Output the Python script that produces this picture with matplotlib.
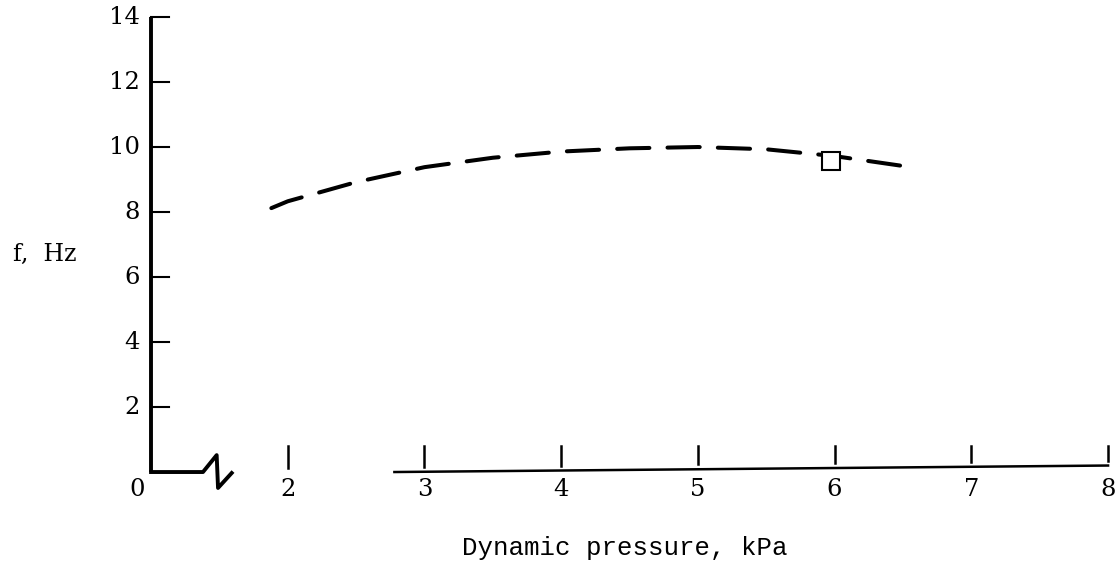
import numpy as np
import matplotlib
matplotlib.use("Agg")
import matplotlib.pyplot as plt

# Curve (dynamic pressure kPa, frequency Hz)
q_curve = [1.88, 2.0, 2.5, 3.0, 3.5, 4.0, 4.5, 5.0, 5.5, 6.0, 6.56]
f_curve = [8.12, 8.33, 8.92, 9.38, 9.67, 9.86, 9.96, 10.0, 9.93, 9.72, 9.38]

# Single test point
q_point = [5.97]
f_point = [9.57]

x_ticks = [2, 3, 4, 5, 6, 7, 8]
y_ticks = [2, 4, 6, 8, 10, 12, 14]

x_origin = 1.0  # where "0" sits after the axis break

serif = "DejaVu Serif"
mono = "Liberation Mono"
tick_fs = 17.5

fig = plt.figure(figsize=(11.18, 5.67), dpi=100)
ax = fig.add_axes([0.1351, 0.1675, 0.856, 0.8025])
ax.set_xlim(x_origin, 8.0)
ax.set_ylim(0, 14)
ax.axis("off")

# y axis with inward ticks
ax.plot([x_origin, x_origin], [0, 14], color="black", lw=2.8,
        solid_capstyle="butt", clip_on=False)
for yt in y_ticks:
    ax.plot([x_origin, x_origin + 0.13], [yt, yt], color="black", lw=1.5, clip_on=False)
    ax.text(x_origin - 0.08, yt, str(yt), ha="right", va="center",
            fontsize=tick_fs, family=serif, color="black")

# x axis: short stub with break symbol, then main axis
ax.plot([x_origin, 1.38, 1.48, 1.49, 1.59], [0, 0, 0.52, -0.49, -0.03],
        color="black", lw=2.8, clip_on=False, solid_joinstyle="round")
ax.plot([2.78, 8.0], [0, 0.2], color="black", lw=1.8, clip_on=False)
for xt in x_ticks:
    ax.plot([xt, xt], [0.15 + 0.2 * (xt - 2.78) / 5.22, 0.8], color="black",
            lw=1.8, clip_on=False)
    ax.text(xt, -0.55, str(xt), ha="center", va="center",
            fontsize=tick_fs, family=serif, color="black")
ax.text(x_origin - 0.1, -0.55, "0", ha="center", va="center",
        fontsize=tick_fs, family=serif, color="black")

# data
ax.plot(q_curve, f_curve, color="black", lw=2.9, linestyle=(0, (8, 4.5)),
        dash_capstyle="round", clip_on=False)
ax.plot(q_point, f_point, marker="s", markersize=13, markerfacecolor="white",
        markeredgecolor="black", markeredgewidth=1.5, linestyle="none",
        clip_on=False)

# labels
fig.text(625 / 1118, 1 - 548 / 567, "Dynamic pressure, kPa", ha="center",
         va="center", fontsize=18.5, family=mono, color="black")
fig.text(13 / 1118, 1 - 254 / 567, "f,  Hz", ha="left", va="center",
         fontsize=17, family=serif, color="black")

fig.savefig("out.png", dpi=100)
